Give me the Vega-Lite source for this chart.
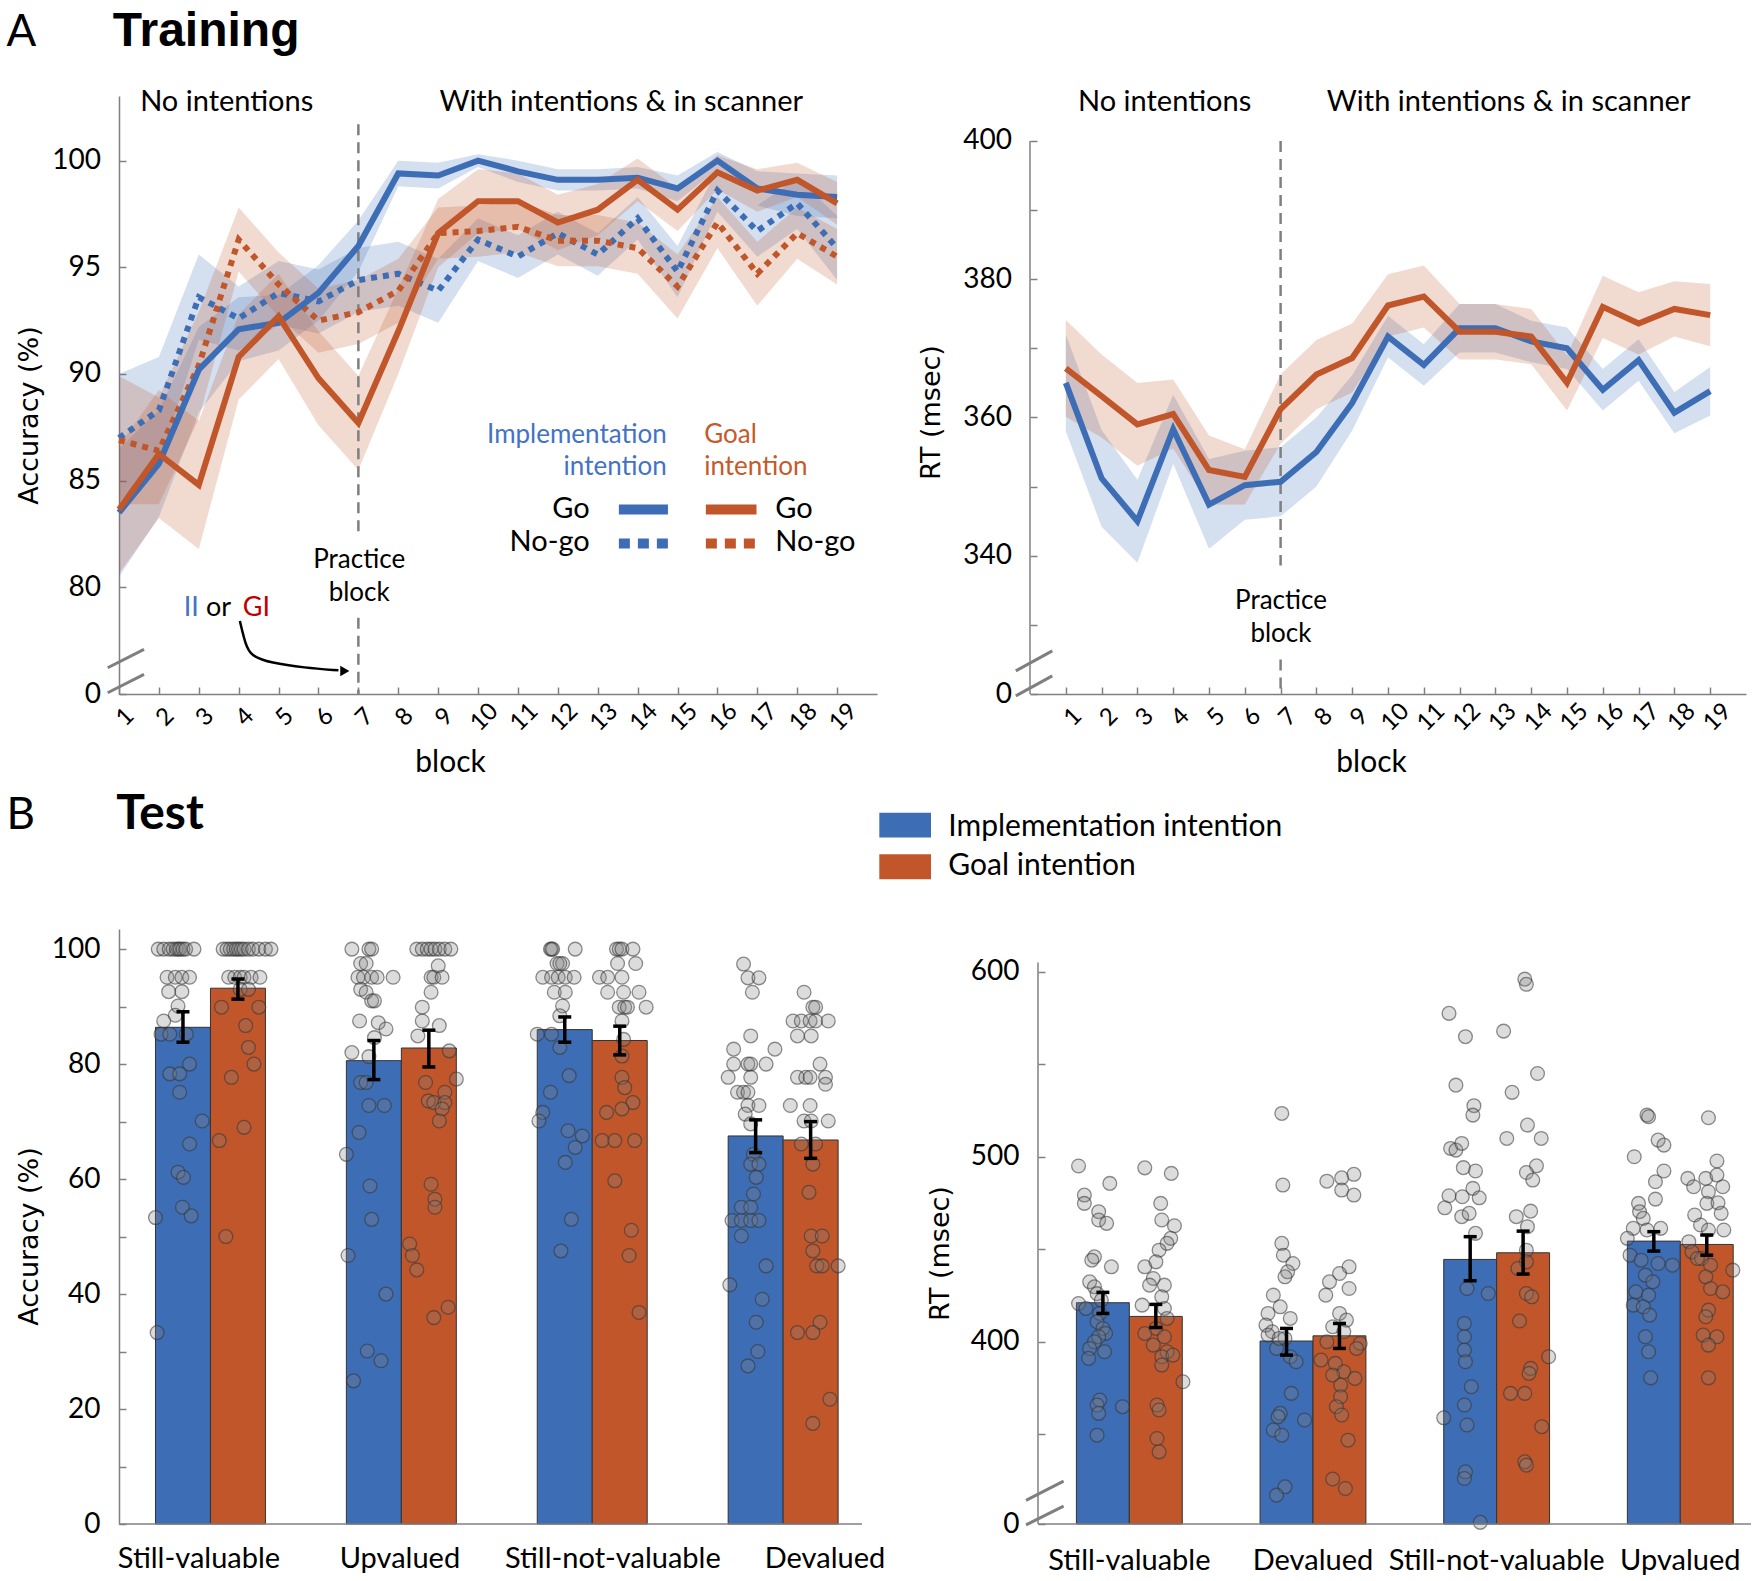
{
"$schema": "https://vega.github.io/schema/vega-lite/v6.json",
"background": "white",
"padding": {"left": 6, "top": 8, "right": 3, "bottom": 5},
"config": {
  "view": {"stroke": null},
  "font": "Lato",
  "axis": {"grid": false, "labelFont": "Lato", "titleFont": "Lato", "labelColor": "black", "titleColor": "black", "domainColor": "#808080", "tickColor": "#808080", "domainWidth": 1.5, "tickWidth": 1.5, "labelFlush": false, "labelOverlap": false, "labelLimit": 0, "titleFontWeight": "normal", "titlePadding": 0},
  "legend": {"disable": true},
  "text": {"font": "Lato"}
},
"datasets": {
  "tlacc": [
    {"block":1,"intention":"II","response":"Go","acc":83.5,"lo":80.5,"hi":86.5},
    {"block":2,"intention":"II","response":"Go","acc":85.8,"lo":83.3,"hi":88.3},
    {"block":3,"intention":"II","response":"Go","acc":90.2,"lo":88.2,"hi":92.2},
    {"block":4,"intention":"II","response":"Go","acc":92.1,"lo":90.6,"hi":93.6},
    {"block":5,"intention":"II","response":"Go","acc":92.4,"lo":91.1,"hi":93.7},
    {"block":6,"intention":"II","response":"Go","acc":93.8,"lo":92.5,"hi":95.1},
    {"block":7,"intention":"II","response":"Go","acc":96.0,"lo":94.8,"hi":97.2},
    {"block":8,"intention":"II","response":"Go","acc":99.4,"lo":98.8,"hi":100.0},
    {"block":9,"intention":"II","response":"Go","acc":99.3,"lo":98.7,"hi":99.9},
    {"block":10,"intention":"II","response":"Go","acc":100.0,"lo":99.7,"hi":100.3},
    {"block":11,"intention":"II","response":"Go","acc":99.5,"lo":99.0,"hi":100.0},
    {"block":12,"intention":"II","response":"Go","acc":99.1,"lo":98.6,"hi":99.6},
    {"block":13,"intention":"II","response":"Go","acc":99.1,"lo":98.6,"hi":99.6},
    {"block":14,"intention":"II","response":"Go","acc":99.2,"lo":98.7,"hi":99.7},
    {"block":15,"intention":"II","response":"Go","acc":98.7,"lo":98.1,"hi":99.3},
    {"block":16,"intention":"II","response":"Go","acc":100.0,"lo":99.6,"hi":100.4},
    {"block":17,"intention":"II","response":"Go","acc":98.7,"lo":97.9,"hi":99.5},
    {"block":18,"intention":"II","response":"Go","acc":98.4,"lo":97.4,"hi":99.4},
    {"block":19,"intention":"II","response":"Go","acc":98.3,"lo":97.3,"hi":99.3},
    {"block":1,"intention":"II","response":"No-go","acc":87.0,"lo":84.0,"hi":90.0},
    {"block":2,"intention":"II","response":"No-go","acc":88.3,"lo":85.8,"hi":90.8},
    {"block":3,"intention":"II","response":"No-go","acc":93.6,"lo":91.6,"hi":95.6},
    {"block":4,"intention":"II","response":"No-go","acc":92.6,"lo":91.1,"hi":94.1},
    {"block":5,"intention":"II","response":"No-go","acc":93.8,"lo":92.3,"hi":95.3},
    {"block":6,"intention":"II","response":"No-go","acc":93.4,"lo":91.9,"hi":94.9},
    {"block":7,"intention":"II","response":"No-go","acc":94.4,"lo":92.9,"hi":95.9},
    {"block":8,"intention":"II","response":"No-go","acc":94.7,"lo":93.2,"hi":96.2},
    {"block":9,"intention":"II","response":"No-go","acc":93.9,"lo":92.4,"hi":95.4},
    {"block":10,"intention":"II","response":"No-go","acc":96.3,"lo":95.3,"hi":97.3},
    {"block":11,"intention":"II","response":"No-go","acc":95.5,"lo":94.5,"hi":96.5},
    {"block":12,"intention":"II","response":"No-go","acc":96.6,"lo":95.6,"hi":97.6},
    {"block":13,"intention":"II","response":"No-go","acc":95.6,"lo":94.6,"hi":96.6},
    {"block":14,"intention":"II","response":"No-go","acc":97.3,"lo":96.3,"hi":98.3},
    {"block":15,"intention":"II","response":"No-go","acc":94.8,"lo":93.6,"hi":96.0},
    {"block":16,"intention":"II","response":"No-go","acc":98.6,"lo":97.6,"hi":99.6},
    {"block":17,"intention":"II","response":"No-go","acc":96.7,"lo":95.5,"hi":97.9},
    {"block":18,"intention":"II","response":"No-go","acc":98.0,"lo":96.8,"hi":99.2},
    {"block":19,"intention":"II","response":"No-go","acc":95.9,"lo":94.4,"hi":97.4},
    {"block":1,"intention":"GI","response":"Go","acc":83.65,"lo":80.65,"hi":86.65},
    {"block":2,"intention":"GI","response":"Go","acc":86.25,"lo":83.25,"hi":89.25},
    {"block":3,"intention":"GI","response":"Go","acc":84.8,"lo":81.8,"hi":87.8},
    {"block":4,"intention":"GI","response":"Go","acc":90.8,"lo":88.8,"hi":92.8},
    {"block":5,"intention":"GI","response":"Go","acc":92.7,"lo":90.7,"hi":94.7},
    {"block":6,"intention":"GI","response":"Go","acc":89.8,"lo":87.6,"hi":92.0},
    {"block":7,"intention":"GI","response":"Go","acc":87.7,"lo":85.5,"hi":89.9},
    {"block":8,"intention":"GI","response":"Go","acc":92.0,"lo":90.0,"hi":94.0},
    {"block":9,"intention":"GI","response":"Go","acc":96.6,"lo":95.0,"hi":98.2},
    {"block":10,"intention":"GI","response":"Go","acc":98.1,"lo":96.6,"hi":99.6},
    {"block":11,"intention":"GI","response":"Go","acc":98.1,"lo":96.8,"hi":99.4},
    {"block":12,"intention":"GI","response":"Go","acc":97.1,"lo":95.8,"hi":98.4},
    {"block":13,"intention":"GI","response":"Go","acc":97.7,"lo":96.5,"hi":98.9},
    {"block":14,"intention":"GI","response":"Go","acc":99.1,"lo":98.1,"hi":100.1},
    {"block":15,"intention":"GI","response":"Go","acc":97.7,"lo":96.7,"hi":98.7},
    {"block":16,"intention":"GI","response":"Go","acc":99.45,"lo":98.65,"hi":100.25},
    {"block":17,"intention":"GI","response":"Go","acc":98.6,"lo":97.6,"hi":99.6},
    {"block":18,"intention":"GI","response":"Go","acc":99.1,"lo":98.3,"hi":99.9},
    {"block":19,"intention":"GI","response":"Go","acc":98.0,"lo":97.0,"hi":99.0},
    {"block":1,"intention":"GI","response":"No-go","acc":86.9,"lo":83.9,"hi":89.9},
    {"block":2,"intention":"GI","response":"No-go","acc":86.4,"lo":83.9,"hi":88.9},
    {"block":3,"intention":"GI","response":"No-go","acc":90.4,"lo":87.9,"hi":92.9},
    {"block":4,"intention":"GI","response":"No-go","acc":96.3,"lo":94.8,"hi":97.8},
    {"block":5,"intention":"GI","response":"No-go","acc":94.2,"lo":92.7,"hi":95.7},
    {"block":6,"intention":"GI","response":"No-go","acc":92.5,"lo":91.0,"hi":94.0},
    {"block":7,"intention":"GI","response":"No-go","acc":92.9,"lo":91.4,"hi":94.4},
    {"block":8,"intention":"GI","response":"No-go","acc":93.9,"lo":92.4,"hi":95.4},
    {"block":9,"intention":"GI","response":"No-go","acc":96.6,"lo":95.4,"hi":97.8},
    {"block":10,"intention":"GI","response":"No-go","acc":96.7,"lo":95.5,"hi":97.9},
    {"block":11,"intention":"GI","response":"No-go","acc":96.9,"lo":95.7,"hi":98.1},
    {"block":12,"intention":"GI","response":"No-go","acc":96.25,"lo":95.05,"hi":97.45},
    {"block":13,"intention":"GI","response":"No-go","acc":96.25,"lo":95.05,"hi":97.45},
    {"block":14,"intention":"GI","response":"No-go","acc":95.9,"lo":94.7,"hi":97.1},
    {"block":15,"intention":"GI","response":"No-go","acc":94.1,"lo":92.6,"hi":95.6},
    {"block":16,"intention":"GI","response":"No-go","acc":97.1,"lo":95.9,"hi":98.3},
    {"block":17,"intention":"GI","response":"No-go","acc":94.7,"lo":93.2,"hi":96.2},
    {"block":18,"intention":"GI","response":"No-go","acc":96.6,"lo":95.4,"hi":97.8},
    {"block":19,"intention":"GI","response":"No-go","acc":95.5,"lo":94.2,"hi":96.8}
  ],
  "trrt": [
    {"block":1,"intention":"II","rt":365.0,"lo":358.0,"hi":372.0},
    {"block":2,"intention":"II","rt":351.2,"lo":344.2,"hi":358.2},
    {"block":3,"intention":"II","rt":345.0,"lo":339.0,"hi":351.0},
    {"block":4,"intention":"II","rt":358.3,"lo":353.3,"hi":363.3},
    {"block":5,"intention":"II","rt":347.4,"lo":341.0,"hi":354.0},
    {"block":6,"intention":"II","rt":350.2,"lo":345.2,"hi":355.2},
    {"block":7,"intention":"II","rt":350.7,"lo":345.7,"hi":355.7},
    {"block":8,"intention":"II","rt":355.0,"lo":350.0,"hi":360.0},
    {"block":9,"intention":"II","rt":362.1,"lo":358.1,"hi":366.1},
    {"block":10,"intention":"II","rt":371.7,"lo":368.7,"hi":374.7},
    {"block":11,"intention":"II","rt":367.6,"lo":364.6,"hi":370.6},
    {"block":12,"intention":"II","rt":372.9,"lo":369.4,"hi":376.4},
    {"block":13,"intention":"II","rt":372.9,"lo":369.4,"hi":376.4},
    {"block":14,"intention":"II","rt":371.0,"lo":368.0,"hi":374.0},
    {"block":15,"intention":"II","rt":370.0,"lo":367.0,"hi":373.0},
    {"block":16,"intention":"II","rt":364.0,"lo":361.0,"hi":367.0},
    {"block":17,"intention":"II","rt":368.3,"lo":365.3,"hi":371.3},
    {"block":18,"intention":"II","rt":360.7,"lo":357.7,"hi":363.7},
    {"block":19,"intention":"II","rt":363.8,"lo":360.3,"hi":367.3},
    {"block":1,"intention":"GI","rt":367.1,"lo":360.1,"hi":374.1},
    {"block":2,"intention":"GI","rt":363.1,"lo":357.1,"hi":369.1},
    {"block":3,"intention":"GI","rt":359.0,"lo":353.0,"hi":365.0},
    {"block":4,"intention":"GI","rt":360.5,"lo":355.5,"hi":365.5},
    {"block":5,"intention":"GI","rt":352.4,"lo":347.4,"hi":357.4},
    {"block":6,"intention":"GI","rt":351.4,"lo":347.4,"hi":355.4},
    {"block":7,"intention":"GI","rt":361.2,"lo":356.2,"hi":366.2},
    {"block":8,"intention":"GI","rt":366.2,"lo":361.2,"hi":371.2},
    {"block":9,"intention":"GI","rt":368.6,"lo":363.6,"hi":373.6},
    {"block":10,"intention":"GI","rt":376.2,"lo":371.7,"hi":380.7},
    {"block":11,"intention":"GI","rt":377.5,"lo":373.0,"hi":382.0},
    {"block":12,"intention":"GI","rt":372.4,"lo":368.4,"hi":376.4},
    {"block":13,"intention":"GI","rt":372.4,"lo":368.4,"hi":376.4},
    {"block":14,"intention":"GI","rt":371.7,"lo":367.7,"hi":375.7},
    {"block":15,"intention":"GI","rt":365.0,"lo":361.0,"hi":369.0},
    {"block":16,"intention":"GI","rt":376.0,"lo":371.5,"hi":380.5},
    {"block":17,"intention":"GI","rt":373.6,"lo":369.1,"hi":378.1},
    {"block":18,"intention":"GI","rt":375.7,"lo":371.7,"hi":379.7},
    {"block":19,"intention":"GI","rt":374.8,"lo":370.3,"hi":379.3}
  ],
  "blbars": [
    {"c":"SV","i":"II","v":86.4,"lo":83.8,"hi":89.1},{"c":"SV","i":"GI","v":93.2,"lo":91.3,"hi":94.8},
    {"c":"UP","i":"II","v":80.6,"lo":77.3,"hi":84.1},{"c":"UP","i":"GI","v":82.8,"lo":79.5,"hi":85.9},
    {"c":"SNV","i":"II","v":86.0,"lo":83.8,"hi":88.2},{"c":"SNV","i":"GI","v":84.1,"lo":81.6,"hi":86.6},
    {"c":"DEV","i":"II","v":67.5,"lo":64.6,"hi":70.3},{"c":"DEV","i":"GI","v":66.8,"lo":63.6,"hi":70.0}
  ],
  "brbars": [
    {"c":"SV","i":"II","v":421.1,"lo":415.3,"hi":426.7},{"c":"SV","i":"GI","v":413.7,"lo":407.7,"hi":420.2},
    {"c":"DEV","i":"II","v":400.4,"lo":392.8,"hi":407.2},{"c":"DEV","i":"GI","v":403.2,"lo":396.4,"hi":409.9},
    {"c":"SNV","i":"II","v":444.5,"lo":433.0,"hi":456.8},{"c":"SNV","i":"GI","v":448.1,"lo":436.6,"hi":459.8},
    {"c":"UP","i":"II","v":454.4,"lo":449.0,"hi":459.5},{"c":"UP","i":"GI","v":452.6,"lo":446.8,"hi":457.7}
  ],
  "blpts": [
    {"c":"SV","i":"II","j":-0.95,"v":100},{"c":"SV","i":"II","j":-0.85,"v":100},{"c":"SV","i":"II","j":-0.75,"v":100},{"c":"SV","i":"II","j":-0.68,"v":100},{"c":"SV","i":"II","j":-0.62,"v":100},{"c":"SV","i":"II","j":-0.58,"v":100},{"c":"SV","i":"II","j":-0.55,"v":100},{"c":"SV","i":"II","j":-0.5,"v":100},{"c":"SV","i":"II","j":-0.45,"v":100},{"c":"SV","i":"II","j":-0.3,"v":100},
    {"c":"SV","i":"II","j":-0.79,"v":95.1},{"c":"SV","i":"II","j":-0.64,"v":95.1},{"c":"SV","i":"II","j":-0.52,"v":95.1},{"c":"SV","i":"II","j":-0.38,"v":95.1},
    {"c":"SV","i":"II","j":-0.76,"v":92.6},{"c":"SV","i":"II","j":-0.52,"v":92.6},{"c":"SV","i":"II","j":-0.59,"v":90.1},{"c":"SV","i":"II","j":-0.85,"v":87.5},{"c":"SV","i":"II","j":-0.64,"v":88.5},
    {"c":"SV","i":"II","j":-0.9,"v":85.2},{"c":"SV","i":"II","j":-0.74,"v":85.2},{"c":"SV","i":"II","j":-0.44,"v":85.2},{"c":"SV","i":"II","j":-0.38,"v":80},{"c":"SV","i":"II","j":-0.74,"v":78.3},{"c":"SV","i":"II","j":-0.56,"v":78.3},{"c":"SV","i":"II","j":-0.56,"v":75.1},{"c":"SV","i":"II","j":-0.15,"v":70.1},{"c":"SV","i":"II","j":-0.38,"v":66.1},{"c":"SV","i":"II","j":-0.59,"v":61.2},{"c":"SV","i":"II","j":-0.49,"v":60.3},{"c":"SV","i":"II","j":-0.51,"v":55.1},{"c":"SV","i":"II","j":-0.35,"v":53.6},{"c":"SV","i":"II","j":-1.0,"v":53.3},{"c":"SV","i":"II","j":-0.97,"v":33.3},
    {"c":"SV","i":"GI","j":0.23,"v":100},{"c":"SV","i":"GI","j":0.3,"v":100},{"c":"SV","i":"GI","j":0.36,"v":100},{"c":"SV","i":"GI","j":0.42,"v":100},{"c":"SV","i":"GI","j":0.47,"v":100},{"c":"SV","i":"GI","j":0.51,"v":100},{"c":"SV","i":"GI","j":0.56,"v":100},{"c":"SV","i":"GI","j":0.61,"v":100},{"c":"SV","i":"GI","j":0.69,"v":100},{"c":"SV","i":"GI","j":0.77,"v":100},{"c":"SV","i":"GI","j":0.88,"v":100},{"c":"SV","i":"GI","j":1.0,"v":100},{"c":"SV","i":"GI","j":1.1,"v":100},
    {"c":"SV","i":"GI","j":0.33,"v":95.1},{"c":"SV","i":"GI","j":0.44,"v":95.1},{"c":"SV","i":"GI","j":0.54,"v":95.1},{"c":"SV","i":"GI","j":0.61,"v":95.1},{"c":"SV","i":"GI","j":0.74,"v":95.1},{"c":"SV","i":"GI","j":0.9,"v":95.1},
    {"c":"SV","i":"GI","j":0.54,"v":93},{"c":"SV","i":"GI","j":0.69,"v":93},{"c":"SV","i":"GI","j":0.2,"v":89.9},{"c":"SV","i":"GI","j":0.88,"v":89.9},{"c":"SV","i":"GI","j":0.64,"v":86.7},{"c":"SV","i":"GI","j":0.69,"v":82.9},{"c":"SV","i":"GI","j":0.79,"v":80},{"c":"SV","i":"GI","j":0.38,"v":77.7},{"c":"SV","i":"GI","j":0.61,"v":69},{"c":"SV","i":"GI","j":0.16,"v":66.7},{"c":"SV","i":"GI","j":0.28,"v":50},
    {"c":"UP","i":"II","j":-0.9,"v":100},{"c":"UP","i":"II","j":-0.59,"v":100},{"c":"UP","i":"II","j":-0.54,"v":100},{"c":"UP","i":"II","j":-0.74,"v":97.5},{"c":"UP","i":"II","j":-0.64,"v":97.5},
    {"c":"UP","i":"II","j":-0.79,"v":95.1},{"c":"UP","i":"II","j":-0.69,"v":95.1},{"c":"UP","i":"II","j":-0.54,"v":95.1},{"c":"UP","i":"II","j":-0.44,"v":95.1},{"c":"UP","i":"II","j":-0.15,"v":95.1},
    {"c":"UP","i":"II","j":-0.74,"v":93},{"c":"UP","i":"II","j":-0.64,"v":92.5},{"c":"UP","i":"II","j":-0.54,"v":91},{"c":"UP","i":"II","j":-0.49,"v":91},{"c":"UP","i":"II","j":-0.76,"v":87.5},{"c":"UP","i":"II","j":-0.42,"v":87.2},{"c":"UP","i":"II","j":-0.28,"v":86.1},{"c":"UP","i":"II","j":-0.49,"v":84.6},{"c":"UP","i":"II","j":-0.9,"v":82},{"c":"UP","i":"II","j":-0.59,"v":81.3},
    {"c":"UP","i":"II","j":-0.74,"v":76.8},{"c":"UP","i":"II","j":-0.64,"v":76.8},{"c":"UP","i":"II","j":-0.59,"v":72.8},{"c":"UP","i":"II","j":-0.31,"v":72.8},{"c":"UP","i":"II","j":-0.77,"v":68.1},{"c":"UP","i":"II","j":-1.0,"v":64.3},{"c":"UP","i":"II","j":-0.57,"v":58.8},{"c":"UP","i":"II","j":-0.54,"v":53},{"c":"UP","i":"II","j":-0.97,"v":46.7},{"c":"UP","i":"II","j":-0.28,"v":40},{"c":"UP","i":"II","j":-0.62,"v":30.1},{"c":"UP","i":"II","j":-0.37,"v":28.4},{"c":"UP","i":"II","j":-0.87,"v":24.9},
    {"c":"UP","i":"GI","j":0.28,"v":100},{"c":"UP","i":"GI","j":0.38,"v":100},{"c":"UP","i":"GI","j":0.47,"v":100},{"c":"UP","i":"GI","j":0.54,"v":100},{"c":"UP","i":"GI","j":0.61,"v":100},{"c":"UP","i":"GI","j":0.69,"v":100},{"c":"UP","i":"GI","j":0.79,"v":100},{"c":"UP","i":"GI","j":0.9,"v":100},
    {"c":"UP","i":"GI","j":0.67,"v":97.1},{"c":"UP","i":"GI","j":0.54,"v":95.1},{"c":"UP","i":"GI","j":0.59,"v":95.1},{"c":"UP","i":"GI","j":0.74,"v":95.1},{"c":"UP","i":"GI","j":0.54,"v":92.5},{"c":"UP","i":"GI","j":0.38,"v":89.9},{"c":"UP","i":"GI","j":0.69,"v":86.7},{"c":"UP","i":"GI","j":0.38,"v":87.5},{"c":"UP","i":"GI","j":0.3,"v":84.9},{"c":"UP","i":"GI","j":0.87,"v":82.3},{"c":"UP","i":"GI","j":1.0,"v":77.4},{"c":"UP","i":"GI","j":0.44,"v":76.8},
    {"c":"UP","i":"GI","j":0.79,"v":75.1},{"c":"UP","i":"GI","j":0.49,"v":73.6},{"c":"UP","i":"GI","j":0.59,"v":73.3},{"c":"UP","i":"GI","j":0.79,"v":73.3},{"c":"UP","i":"GI","j":0.74,"v":72.2},{"c":"UP","i":"GI","j":0.69,"v":70.1},
    {"c":"UP","i":"GI","j":0.54,"v":59.1},{"c":"UP","i":"GI","j":0.61,"v":56.5},{"c":"UP","i":"GI","j":0.61,"v":55.1},{"c":"UP","i":"GI","j":0.15,"v":48.7},{"c":"UP","i":"GI","j":0.2,"v":46.7},{"c":"UP","i":"GI","j":0.28,"v":44.2},{"c":"UP","i":"GI","j":0.85,"v":37.7},{"c":"UP","i":"GI","j":0.59,"v":35.9},
    {"c":"SNV","i":"II","j":-0.74,"v":100},{"c":"SNV","i":"II","j":-0.76,"v":100},{"c":"SNV","i":"II","j":-0.72,"v":100},{"c":"SNV","i":"II","j":-0.31,"v":100},
    {"c":"SNV","i":"II","j":-0.64,"v":97.5},{"c":"SNV","i":"II","j":-0.54,"v":97.5},{"c":"SNV","i":"II","j":-0.59,"v":97.5},
    {"c":"SNV","i":"II","j":-0.9,"v":95.1},{"c":"SNV","i":"II","j":-0.74,"v":95.1},{"c":"SNV","i":"II","j":-0.62,"v":95.1},{"c":"SNV","i":"II","j":-0.49,"v":95.1},{"c":"SNV","i":"II","j":-0.33,"v":95.1},
    {"c":"SNV","i":"II","j":-0.69,"v":92.5},{"c":"SNV","i":"II","j":-0.49,"v":92.5},{"c":"SNV","i":"II","j":-0.54,"v":90.1},{"c":"SNV","i":"II","j":-0.59,"v":88.4},{"c":"SNV","i":"II","j":-1.0,"v":85.2},{"c":"SNV","i":"II","j":-0.74,"v":85.2},
    {"c":"SNV","i":"II","j":-0.59,"v":82.9},{"c":"SNV","i":"II","j":-0.42,"v":78},{"c":"SNV","i":"II","j":-0.76,"v":75.1},{"c":"SNV","i":"II","j":-0.9,"v":71.6},{"c":"SNV","i":"II","j":-0.97,"v":70.1},{"c":"SNV","i":"II","j":-0.44,"v":68.4},{"c":"SNV","i":"II","j":-0.18,"v":67.5},{"c":"SNV","i":"II","j":-0.31,"v":65.5},{"c":"SNV","i":"II","j":-0.49,"v":62.9},{"c":"SNV","i":"II","j":-0.38,"v":53},{"c":"SNV","i":"II","j":-0.57,"v":47.5},
    {"c":"SNV","i":"GI","j":0.44,"v":100},{"c":"SNV","i":"GI","j":0.49,"v":100},{"c":"SNV","i":"GI","j":0.54,"v":100},{"c":"SNV","i":"GI","j":0.74,"v":100},{"c":"SNV","i":"GI","j":0.46,"v":97.5},{"c":"SNV","i":"GI","j":0.79,"v":97.5},
    {"c":"SNV","i":"GI","j":0.13,"v":95.1},{"c":"SNV","i":"GI","j":0.28,"v":95.1},{"c":"SNV","i":"GI","j":0.54,"v":95.1},{"c":"SNV","i":"GI","j":0.28,"v":92.5},{"c":"SNV","i":"GI","j":0.57,"v":92.5},{"c":"SNV","i":"GI","j":0.85,"v":92.5},
    {"c":"SNV","i":"GI","j":0.49,"v":89.9},{"c":"SNV","i":"GI","j":0.59,"v":89.9},{"c":"SNV","i":"GI","j":0.64,"v":89.9},{"c":"SNV","i":"GI","j":0.98,"v":89.9},
    {"c":"SNV","i":"GI","j":0.54,"v":87.5},{"c":"SNV","i":"GI","j":0.57,"v":84.3},{"c":"SNV","i":"GI","j":0.54,"v":81.4},{"c":"SNV","i":"GI","j":0.54,"v":77.7},{"c":"SNV","i":"GI","j":0.59,"v":75.9},{"c":"SNV","i":"GI","j":0.74,"v":73.3},{"c":"SNV","i":"GI","j":0.26,"v":71.6},{"c":"SNV","i":"GI","j":0.54,"v":72.2},
    {"c":"SNV","i":"GI","j":0.18,"v":66.7},{"c":"SNV","i":"GI","j":0.41,"v":66.7},{"c":"SNV","i":"GI","j":0.77,"v":66.7},{"c":"SNV","i":"GI","j":0.41,"v":59.7},{"c":"SNV","i":"GI","j":0.71,"v":51.1},{"c":"SNV","i":"GI","j":0.67,"v":46.7},{"c":"SNV","i":"GI","j":0.85,"v":36.8},
    {"c":"DEV","i":"II","j":-0.72,"v":97.4},{"c":"DEV","i":"II","j":-0.64,"v":95},{"c":"DEV","i":"II","j":-0.44,"v":95},{"c":"DEV","i":"II","j":-0.56,"v":92.5},{"c":"DEV","i":"II","j":-0.59,"v":84.9},{"c":"DEV","i":"II","j":-0.9,"v":82.6},{"c":"DEV","i":"II","j":-0.15,"v":82.6},
    {"c":"DEV","i":"II","j":-0.9,"v":80},{"c":"DEV","i":"II","j":-0.64,"v":80},{"c":"DEV","i":"II","j":-0.59,"v":80},{"c":"DEV","i":"II","j":-0.31,"v":80},{"c":"DEV","i":"II","j":-1.0,"v":77.7},{"c":"DEV","i":"II","j":-0.59,"v":77.7},
    {"c":"DEV","i":"II","j":-0.83,"v":75.1},{"c":"DEV","i":"II","j":-0.72,"v":75.1},{"c":"DEV","i":"II","j":-0.64,"v":75.1},{"c":"DEV","i":"II","j":-0.64,"v":72.8},{"c":"DEV","i":"II","j":-0.44,"v":72.8},{"c":"DEV","i":"II","j":-0.69,"v":71.3},{"c":"DEV","i":"II","j":-0.59,"v":69.6},
    {"c":"DEV","i":"II","j":-0.54,"v":64.3},{"c":"DEV","i":"II","j":-0.59,"v":62.6},{"c":"DEV","i":"II","j":-0.44,"v":62.6},{"c":"DEV","i":"II","j":-0.49,"v":60.3},{"c":"DEV","i":"II","j":-0.54,"v":57.4},
    {"c":"DEV","i":"II","j":-0.76,"v":55.1},{"c":"DEV","i":"II","j":-0.59,"v":55.1},{"c":"DEV","i":"II","j":-0.93,"v":52.8},{"c":"DEV","i":"II","j":-0.76,"v":52.8},{"c":"DEV","i":"II","j":-0.59,"v":52.8},{"c":"DEV","i":"II","j":-0.44,"v":52.8},{"c":"DEV","i":"II","j":-0.76,"v":50.1},
    {"c":"DEV","i":"II","j":-0.31,"v":44.9},{"c":"DEV","i":"II","j":-0.97,"v":41.6},{"c":"DEV","i":"II","j":-0.38,"v":39.1},{"c":"DEV","i":"II","j":-0.49,"v":35.1},{"c":"DEV","i":"II","j":-0.46,"v":30},{"c":"DEV","i":"II","j":-0.64,"v":27.5},
    {"c":"DEV","i":"GI","j":0.38,"v":92.5},{"c":"DEV","i":"GI","j":0.54,"v":89.9},{"c":"DEV","i":"GI","j":0.59,"v":89.9},
    {"c":"DEV","i":"GI","j":0.18,"v":87.5},{"c":"DEV","i":"GI","j":0.33,"v":87.5},{"c":"DEV","i":"GI","j":0.49,"v":87.5},{"c":"DEV","i":"GI","j":0.59,"v":87.5},{"c":"DEV","i":"GI","j":0.82,"v":87.5},
    {"c":"DEV","i":"GI","j":0.26,"v":84.9},{"c":"DEV","i":"GI","j":0.51,"v":84.9},{"c":"DEV","i":"GI","j":0.67,"v":80},
    {"c":"DEV","i":"GI","j":0.26,"v":77.7},{"c":"DEV","i":"GI","j":0.41,"v":77.7},{"c":"DEV","i":"GI","j":0.49,"v":77.7},{"c":"DEV","i":"GI","j":0.77,"v":77.7},{"c":"DEV","i":"GI","j":0.77,"v":76.5},
    {"c":"DEV","i":"GI","j":0.13,"v":72.8},{"c":"DEV","i":"GI","j":0.49,"v":72.8},{"c":"DEV","i":"GI","j":0.38,"v":70.1},{"c":"DEV","i":"GI","j":0.51,"v":70.1},{"c":"DEV","i":"GI","j":0.82,"v":70.1},
    {"c":"DEV","i":"GI","j":0.33,"v":66.1},{"c":"DEV","i":"GI","j":0.59,"v":66.1},{"c":"DEV","i":"GI","j":0.54,"v":62.6},{"c":"DEV","i":"GI","j":0.47,"v":57.7},{"c":"DEV","i":"GI","j":0.51,"v":50.1},{"c":"DEV","i":"GI","j":0.71,"v":50.1},{"c":"DEV","i":"GI","j":0.54,"v":47.5},
    {"c":"DEV","i":"GI","j":0.61,"v":44.9},{"c":"DEV","i":"GI","j":0.71,"v":44.9},{"c":"DEV","i":"GI","j":1.0,"v":44.9},{"c":"DEV","i":"GI","j":0.67,"v":35.1},{"c":"DEV","i":"GI","j":0.26,"v":33.3},{"c":"DEV","i":"GI","j":0.54,"v":33.3},{"c":"DEV","i":"GI","j":0.85,"v":21.7},{"c":"DEV","i":"GI","j":0.54,"v":17.5}
  ],
  "brpts": [
    {"c":"SV","i":"II","j":-0.96,"v":495},{"c":"SV","i":"II","j":-0.85,"v":479.3},{"c":"SV","i":"II","j":-0.85,"v":474.8},{"c":"SV","i":"II","j":-0.58,"v":470.3},{"c":"SV","i":"II","j":-0.58,"v":465.8},{"c":"SV","i":"II","j":-0.43,"v":464},{"c":"SV","i":"II","j":-0.37,"v":485.6},
    {"c":"SV","i":"II","j":-0.66,"v":445.9},{"c":"SV","i":"II","j":-0.71,"v":444.1},{"c":"SV","i":"II","j":-0.34,"v":440.5},{"c":"SV","i":"II","j":-0.75,"v":432.4},{"c":"SV","i":"II","j":-0.66,"v":429.7},{"c":"SV","i":"II","j":-0.61,"v":426},{"c":"SV","i":"II","j":-0.53,"v":422.5},{"c":"SV","i":"II","j":-0.96,"v":420.7},{"c":"SV","i":"II","j":-0.82,"v":418},{"c":"SV","i":"II","j":-0.56,"v":415.3},
    {"c":"SV","i":"II","j":-0.61,"v":410.8},{"c":"SV","i":"II","j":-0.5,"v":407.2},{"c":"SV","i":"II","j":-0.45,"v":404.5},{"c":"SV","i":"II","j":-0.58,"v":402.7},{"c":"SV","i":"II","j":-0.66,"v":400},{"c":"SV","i":"II","j":-0.75,"v":396.4},{"c":"SV","i":"II","j":-0.47,"v":394.6},{"c":"SV","i":"II","j":-0.77,"v":391},
    {"c":"SV","i":"II","j":-0.56,"v":368.5},{"c":"SV","i":"II","j":-0.61,"v":365.8},{"c":"SV","i":"II","j":-0.13,"v":364.9},{"c":"SV","i":"II","j":-0.58,"v":361.3},{"c":"SV","i":"II","j":-0.61,"v":349.5},
    {"c":"SV","i":"GI","j":0.29,"v":494},{"c":"SV","i":"GI","j":0.79,"v":491},{"c":"SV","i":"GI","j":0.59,"v":474.8},{"c":"SV","i":"GI","j":0.61,"v":465.8},{"c":"SV","i":"GI","j":0.85,"v":462.7},{"c":"SV","i":"GI","j":0.78,"v":455.9},
    {"c":"SV","i":"GI","j":0.71,"v":453.2},{"c":"SV","i":"GI","j":0.56,"v":449.5},{"c":"SV","i":"GI","j":0.29,"v":440.5},{"c":"SV","i":"GI","j":0.5,"v":443.2},{"c":"SV","i":"GI","j":0.45,"v":434.2},{"c":"SV","i":"GI","j":0.38,"v":430.6},{"c":"SV","i":"GI","j":0.66,"v":430.6},{"c":"SV","i":"GI","j":0.24,"v":419.8},{"c":"SV","i":"GI","j":0.61,"v":424.3},{"c":"SV","i":"GI","j":0.66,"v":418},
    {"c":"SV","i":"GI","j":0.71,"v":412.6},{"c":"SV","i":"GI","j":0.5,"v":407.2},{"c":"SV","i":"GI","j":0.66,"v":402.7},{"c":"SV","i":"GI","j":0.45,"v":398.2},{"c":"SV","i":"GI","j":0.71,"v":394.6},{"c":"SV","i":"GI","j":0.61,"v":391.9},{"c":"SV","i":"GI","j":0.82,"v":392.8},{"c":"SV","i":"GI","j":0.61,"v":387.4},{"c":"SV","i":"GI","j":1.01,"v":378.4},
    {"c":"SV","i":"GI","j":0.52,"v":365.8},{"c":"SV","i":"GI","j":0.56,"v":363.1},{"c":"SV","i":"GI","j":0.52,"v":347.7},{"c":"SV","i":"GI","j":0.56,"v":340.5},{"c":"SV","i":"GI","j":0.29,"v":404.5},
    {"c":"DEV","i":"II","j":-0.59,"v":523.4},{"c":"DEV","i":"II","j":-0.57,"v":484.7},{"c":"DEV","i":"II","j":-0.59,"v":453.2},{"c":"DEV","i":"II","j":-0.56,"v":446.8},{"c":"DEV","i":"II","j":-0.38,"v":442.3},{"c":"DEV","i":"II","j":-0.48,"v":437.8},{"c":"DEV","i":"II","j":-0.53,"v":435.1},{"c":"DEV","i":"II","j":-0.75,"v":425.2},{"c":"DEV","i":"II","j":-0.62,"v":418.9},
    {"c":"DEV","i":"II","j":-0.85,"v":415.3},{"c":"DEV","i":"II","j":-0.43,"v":412.6},{"c":"DEV","i":"II","j":-0.89,"v":409},{"c":"DEV","i":"II","j":-0.77,"v":405.4},{"c":"DEV","i":"II","j":-0.53,"v":401.8},{"c":"DEV","i":"II","j":-0.69,"v":396.4},{"c":"DEV","i":"II","j":-0.43,"v":391.9},{"c":"DEV","i":"II","j":-0.32,"v":389.2},
    {"c":"DEV","i":"II","j":-0.41,"v":372.1},{"c":"DEV","i":"II","j":-0.62,"v":361.3},{"c":"DEV","i":"II","j":-0.66,"v":359.5},{"c":"DEV","i":"II","j":-0.16,"v":357.7},{"c":"DEV","i":"II","j":-0.75,"v":352.3},{"c":"DEV","i":"II","j":-0.59,"v":349.5},{"c":"DEV","i":"II","j":-0.53,"v":321.6},{"c":"DEV","i":"II","j":-0.69,"v":317.1},{"c":"DEV","i":"II","j":-0.85,"v":403.6},{"c":"DEV","i":"II","j":-0.64,"v":401.8},
    {"c":"DEV","i":"GI","j":0.26,"v":486.8},{"c":"DEV","i":"GI","j":0.54,"v":488.6},{"c":"DEV","i":"GI","j":0.77,"v":490.5},{"c":"DEV","i":"GI","j":0.54,"v":482},{"c":"DEV","i":"GI","j":0.77,"v":479.3},
    {"c":"DEV","i":"GI","j":0.68,"v":440.5},{"c":"DEV","i":"GI","j":0.5,"v":436.9},{"c":"DEV","i":"GI","j":0.31,"v":432.4},{"c":"DEV","i":"GI","j":0.24,"v":425.2},{"c":"DEV","i":"GI","j":0.68,"v":428.8},{"c":"DEV","i":"GI","j":0.5,"v":415.3},{"c":"DEV","i":"GI","j":0.63,"v":411.7},{"c":"DEV","i":"GI","j":0.37,"v":408.1},{"c":"DEV","i":"GI","j":0.58,"v":405.4},
    {"c":"DEV","i":"GI","j":0.89,"v":399.1},{"c":"DEV","i":"GI","j":0.82,"v":396.4},{"c":"DEV","i":"GI","j":0.15,"v":390.1},{"c":"DEV","i":"GI","j":0.42,"v":388.3},{"c":"DEV","i":"GI","j":0.58,"v":383.8},{"c":"DEV","i":"GI","j":0.37,"v":382},{"c":"DEV","i":"GI","j":0.79,"v":380.2},{"c":"DEV","i":"GI","j":0.52,"v":376.6},
    {"c":"DEV","i":"GI","j":0.52,"v":370.3},{"c":"DEV","i":"GI","j":0.44,"v":364.9},{"c":"DEV","i":"GI","j":0.54,"v":360.4},{"c":"DEV","i":"GI","j":0.66,"v":346.8},{"c":"DEV","i":"GI","j":0.37,"v":325.8},{"c":"DEV","i":"GI","j":0.61,"v":320.7},{"c":"DEV","i":"GI","j":0.26,"v":400},
    {"c":"SNV","i":"II","j":-0.9,"v":577.5},{"c":"SNV","i":"II","j":-0.59,"v":564.9},{"c":"SNV","i":"II","j":-0.77,"v":538.7},{"c":"SNV","i":"II","j":-0.43,"v":527.6},{"c":"SNV","i":"II","j":-0.45,"v":522.5},{"c":"SNV","i":"II","j":-0.87,"v":504.5},{"c":"SNV","i":"II","j":-0.77,"v":503.6},{"c":"SNV","i":"II","j":-0.66,"v":507.2},{"c":"SNV","i":"II","j":-0.63,"v":494.1},
    {"c":"SNV","i":"II","j":-0.4,"v":492.3},{"c":"SNV","i":"II","j":-0.9,"v":478.9},{"c":"SNV","i":"II","j":-0.65,"v":478.4},{"c":"SNV","i":"II","j":-0.45,"v":482.9},{"c":"SNV","i":"II","j":-0.33,"v":477.8},{"c":"SNV","i":"II","j":-0.98,"v":472.4},{"c":"SNV","i":"II","j":-0.66,"v":467.6},{"c":"SNV","i":"II","j":-0.52,"v":469.4},{"c":"SNV","i":"II","j":-0.4,"v":458.6},
    {"c":"SNV","i":"II","j":-0.56,"v":428.8},{"c":"SNV","i":"II","j":-0.16,"v":426.1},{"c":"SNV","i":"II","j":-0.61,"v":409.9},{"c":"SNV","i":"II","j":-0.61,"v":402.7},{"c":"SNV","i":"II","j":-0.61,"v":395.5},{"c":"SNV","i":"II","j":-0.59,"v":389.2},{"c":"SNV","i":"II","j":-0.48,"v":375.7},{"c":"SNV","i":"II","j":-0.61,"v":365.8},
    {"c":"SNV","i":"II","j":-0.56,"v":355},{"c":"SNV","i":"II","j":-1.0,"v":358.9},{"c":"SNV","i":"II","j":-0.59,"v":329.7},{"c":"SNV","i":"II","j":-0.61,"v":326.1},{"c":"SNV","i":"II","j":-0.31,"v":302.4},
    {"c":"SNV","i":"GI","j":0.53,"v":596},{"c":"SNV","i":"GI","j":0.56,"v":593.2},{"c":"SNV","i":"GI","j":0.13,"v":567.9},{"c":"SNV","i":"GI","j":0.77,"v":545},{"c":"SNV","i":"GI","j":0.29,"v":534.8},{"c":"SNV","i":"GI","j":0.58,"v":517.1},{"c":"SNV","i":"GI","j":0.19,"v":509.9},{"c":"SNV","i":"GI","j":0.84,"v":509.9},
    {"c":"SNV","i":"GI","j":0.75,"v":495.1},{"c":"SNV","i":"GI","j":0.56,"v":491.5},{"c":"SNV","i":"GI","j":0.68,"v":487.4},{"c":"SNV","i":"GI","j":0.37,"v":467.6},{"c":"SNV","i":"GI","j":0.64,"v":470.6},{"c":"SNV","i":"GI","j":0.58,"v":462.2},
    {"c":"SNV","i":"GI","j":0.56,"v":449.5},{"c":"SNV","i":"GI","j":0.56,"v":443.2},{"c":"SNV","i":"GI","j":0.4,"v":439.6},{"c":"SNV","i":"GI","j":0.56,"v":426.1},{"c":"SNV","i":"GI","j":0.66,"v":424.3},{"c":"SNV","i":"GI","j":0.43,"v":411.2},{"c":"SNV","i":"GI","j":0.98,"v":391.9},
    {"c":"SNV","i":"GI","j":0.64,"v":385.6},{"c":"SNV","i":"GI","j":0.61,"v":382.9},{"c":"SNV","i":"GI","j":0.26,"v":372.1},{"c":"SNV","i":"GI","j":0.53,"v":372.1},{"c":"SNV","i":"GI","j":0.85,"v":354.1},{"c":"SNV","i":"GI","j":0.53,"v":335.1},{"c":"SNV","i":"GI","j":0.56,"v":333.3},
    {"c":"UP","i":"II","j":-0.63,"v":522.5},{"c":"UP","i":"II","j":-0.6,"v":521.6},{"c":"UP","i":"II","j":-0.42,"v":509},{"c":"UP","i":"II","j":-0.31,"v":506.3},{"c":"UP","i":"II","j":-0.87,"v":500},{"c":"UP","i":"II","j":-0.31,"v":492.3},{"c":"UP","i":"II","j":-0.47,"v":486.5},{"c":"UP","i":"II","j":-0.79,"v":474.8},
    {"c":"UP","i":"II","j":-0.47,"v":477.1},{"c":"UP","i":"II","j":-0.77,"v":470.3},{"c":"UP","i":"II","j":-0.7,"v":466.7},{"c":"UP","i":"II","j":-0.89,"v":461.3},{"c":"UP","i":"II","j":-0.63,"v":460.4},{"c":"UP","i":"II","j":-0.37,"v":461.3},{"c":"UP","i":"II","j":-1.0,"v":455.9},
    {"c":"UP","i":"II","j":-0.95,"v":446.8},{"c":"UP","i":"II","j":-0.74,"v":444.1},{"c":"UP","i":"II","j":-0.42,"v":442.3},{"c":"UP","i":"II","j":-0.15,"v":441.4},{"c":"UP","i":"II","j":-0.66,"v":436},{"c":"UP","i":"II","j":-0.52,"v":432.4},{"c":"UP","i":"II","j":-0.84,"v":427},{"c":"UP","i":"II","j":-0.6,"v":425.2},
    {"c":"UP","i":"II","j":-0.89,"v":419.8},{"c":"UP","i":"II","j":-0.7,"v":418.9},{"c":"UP","i":"II","j":-0.58,"v":414.4},{"c":"UP","i":"II","j":-0.66,"v":402.7},{"c":"UP","i":"II","j":-0.6,"v":394.6},{"c":"UP","i":"II","j":-0.56,"v":380.5},
    {"c":"UP","i":"GI","j":0.53,"v":521.1},{"c":"UP","i":"GI","j":0.69,"v":497.7},{"c":"UP","i":"GI","j":0.14,"v":488.3},{"c":"UP","i":"GI","j":0.48,"v":488.3},{"c":"UP","i":"GI","j":0.69,"v":490.1},{"c":"UP","i":"GI","j":0.25,"v":483.8},{"c":"UP","i":"GI","j":0.53,"v":481.1},{"c":"UP","i":"GI","j":0.8,"v":483.8},
    {"c":"UP","i":"GI","j":0.5,"v":474.8},{"c":"UP","i":"GI","j":0.71,"v":475.1},{"c":"UP","i":"GI","j":0.27,"v":468.5},{"c":"UP","i":"GI","j":0.38,"v":463.1},{"c":"UP","i":"GI","j":0.77,"v":469.4},{"c":"UP","i":"GI","j":0.53,"v":460.4},{"c":"UP","i":"GI","j":0.82,"v":460.4},{"c":"UP","i":"GI","j":0.16,"v":454.1},
    {"c":"UP","i":"GI","j":0.22,"v":448.6},{"c":"UP","i":"GI","j":0.4,"v":445},{"c":"UP","i":"GI","j":0.57,"v":441.4},{"c":"UP","i":"GI","j":0.99,"v":438.7},{"c":"UP","i":"GI","j":0.48,"v":435.1},{"c":"UP","i":"GI","j":0.57,"v":428.8},{"c":"UP","i":"GI","j":0.8,"v":427},{"c":"UP","i":"GI","j":0.53,"v":417.1},
    {"c":"UP","i":"GI","j":0.48,"v":413.5},{"c":"UP","i":"GI","j":0.43,"v":403.6},{"c":"UP","i":"GI","j":0.69,"v":402.7},{"c":"UP","i":"GI","j":0.53,"v":398.2},{"c":"UP","i":"GI","j":0.53,"v":380.5},{"c":"UP","i":"GI","j":0.32,"v":445}
  ]
},
"columns": 2,
"bounds": "flush",
"spacing": {"row": 235, "column": 153},
"resolve": {"scale": {"color": "shared", "xOffset": "independent"}},
"concat": [
  {
    "width": 758, "height": 598,
    "encoding": {
      "x": {"field": "block", "type": "quantitative", "scale": {"domain": [1, 20], "nice": false, "zero": false},
            "axis": {"values": [1,2,3,4,5,6,7,8,9,10,11,12,13,14,15,16,17,18,19], "labelAngle": -45, "labelAlign": "center", "labelBaseline": "middle", "labelFontSize": 24, "labelPadding": 30, "labelOffset": 6, "tickSize": -7, "title": "block", "titleFontSize": 30, "titleX": 331, "titleY": 77, "titleBaseline": "alphabetic", "titleAlign": "center"}},
      "y": {"field": "acc", "type": "quantitative", "scale": {"domain": [75, 103.03], "nice": false, "zero": false},
            "axis": {"values": [75, 80, 85, 90, 95, 100], "labelExpr": "datum.value == 75 ? '0' : datum.label", "labelFontSize": 28, "labelPadding": 25.5, "tickSize": -7, "title": "Accuracy (%)", "titleFont": "DejaVu Sans", "titleFontSize": 27, "titleX": -90, "titleY": 319, "titleAngle": -90, "titleAlign": "center", "titleBaseline": "middle"}}
    },
    "layer": [
      {"data": {"name": "tlacc"}, "mark": {"type": "area", "opacity": 0.22},
       "encoding": {"y": {"field": "lo", "type": "quantitative"}, "y2": {"field": "hi"},
                    "color": {"field": "intention", "type": "nominal", "scale": {"domain": ["II", "GI"], "range": ["#3D6DB4", "#C0562A"]}, "legend": null},
                    "detail": {"field": "response", "type": "nominal"}}},
      {"data": {"values": [{"block": 7, "acc": 101.7, "acc2": 82.56}, {"block": 7, "acc": 78.57, "acc2": 75}]},
       "mark": {"type": "rule", "color": "#7f7f7f", "strokeWidth": 2.5, "strokeDash": [11, 7]},
       "encoding": {"y2": {"field": "acc2"}}},
      {"data": {"name": "tlacc"}, "transform": [{"filter": "datum.response == 'No-go'"}],
       "mark": {"type": "line", "strokeWidth": 6, "strokeDash": [6, 6]},
       "encoding": {"color": {"field": "intention", "type": "nominal", "legend": null}}},
      {"data": {"name": "tlacc"}, "transform": [{"filter": "datum.response == 'Go'"}],
       "mark": {"type": "line", "strokeWidth": 6},
       "encoding": {"color": {"field": "intention", "type": "nominal", "legend": null}}},
      {"data": {"values": [{"label": "No intentions", "block": 3.7, "acc": 102.33}, {"label": "With intentions & in scanner", "block": 13.59, "acc": 102.33}]},
       "mark": {"type": "text", "fontSize": 29, "align": "center", "baseline": "alphabetic", "color": "black"},
       "encoding": {"text": {"field": "label"}}},
      {"data": {"values": [{"label": "Practice", "block": 7.02, "acc": 80.92}, {"label": "block", "block": 7.02, "acc": 79.35}]},
       "mark": {"type": "text", "fontSize": 26, "align": "center", "baseline": "alphabetic", "color": "black"},
       "encoding": {"text": {"field": "label"}}},
      {"data": {"values": [{"label": "II", "block": 2.62, "acc": 78.65}]},
       "mark": {"type": "text", "fontSize": 27, "align": "left", "baseline": "alphabetic", "color": "#4472C4"},
       "encoding": {"text": {"field": "label"}}},
      {"data": {"values": [{"label": "or", "block": 3.18, "acc": 78.65}]},
       "mark": {"type": "text", "fontSize": 27, "align": "left", "baseline": "alphabetic", "color": "black"},
       "encoding": {"text": {"field": "label"}}},
      {"data": {"values": [{"label": "GI", "block": 4.1, "acc": 78.65}]},
       "mark": {"type": "text", "fontSize": 27, "align": "left", "baseline": "alphabetic", "color": "#C00000"},
       "encoding": {"text": {"field": "label"}}},
      {"data": {"values": [{"o": 1, "block": 4.03, "acc": 78.42}, {"o": 2, "block": 4.17, "acc": 77.32}, {"o": 3, "block": 4.31, "acc": 76.78}, {"o": 4, "block": 4.8, "acc": 76.46}, {"o": 5, "block": 5.65, "acc": 76.23}, {"o": 6, "block": 6.5, "acc": 76.11}]},
       "mark": {"type": "line", "color": "black", "strokeWidth": 2.5, "interpolate": "basis"},
       "encoding": {"order": {"field": "o", "type": "quantitative"}}},
      {"data": {"values": [{"block": 6.66, "acc": 76.08}]},
       "mark": {"type": "point", "shape": "triangle-right", "filled": true, "color": "black", "size": 110, "opacity": 1},
       "encoding": {}},
      {"data": {"values": [{"label": "Implementation", "block": 14.73, "acc": 86.75}, {"label": "intention", "block": 14.73, "acc": 85.27}]},
       "mark": {"type": "text", "fontSize": 26, "align": "right", "baseline": "alphabetic", "color": "#4472C4"},
       "encoding": {"text": {"field": "label"}}},
      {"data": {"values": [{"label": "Goal", "block": 15.67, "acc": 86.75}, {"label": "intention", "block": 15.67, "acc": 85.27}]},
       "mark": {"type": "text", "fontSize": 26, "align": "left", "baseline": "alphabetic", "color": "#C55A2B"},
       "encoding": {"text": {"field": "label"}}},
      {"data": {"values": [{"label": "Go", "block": 12.8, "acc": 83.26}, {"label": "No-go", "block": 12.8, "acc": 81.7}]},
       "mark": {"type": "text", "fontSize": 29, "align": "right", "baseline": "alphabetic", "color": "black"},
       "encoding": {"text": {"field": "label"}}},
      {"data": {"values": [{"label": "Go", "block": 17.45, "acc": 83.26}, {"label": "No-go", "block": 17.45, "acc": 81.7}]},
       "mark": {"type": "text", "fontSize": 29, "align": "left", "baseline": "alphabetic", "color": "black"},
       "encoding": {"text": {"field": "label"}}},
      {"data": {"values": [{"intention": "II", "block": 13.53, "block2": 14.76, "acc": 83.65}, {"intention": "GI", "block": 15.71, "block2": 16.98, "acc": 83.65}]},
       "mark": {"type": "rule", "strokeWidth": 10},
       "encoding": {"x2": {"field": "block2"}, "color": {"field": "intention", "type": "nominal", "legend": null}}},
      {"data": {"values": [{"intention": "II", "block": 13.53, "block2": 14.76, "acc": 82.06}, {"intention": "GI", "block": 15.71, "block2": 16.98, "acc": 82.06}]},
       "mark": {"type": "rule", "strokeWidth": 10, "strokeDash": [11, 8]},
       "encoding": {"x2": {"field": "block2"}, "color": {"field": "intention", "type": "nominal", "legend": null}}},
      {"data": {"values": [{"block": 0.717, "block2": 1.627, "acc": 76.23, "acc2": 77.09}, {"block": 0.717, "block2": 1.627, "acc": 75.06, "acc2": 75.92}]},
       "mark": {"type": "rule", "color": "#7f7f7f", "strokeWidth": 3},
       "encoding": {"x2": {"field": "block2"}, "y2": {"field": "acc2"}}},
      {"data": {"values": [{"label": "A", "block": -1.82, "acc": 105.37}]},
       "mark": {"type": "text", "fontSize": 44, "align": "left", "baseline": "alphabetic", "color": "black"},
       "encoding": {"text": {"field": "label"}}},
      {"data": {"values": [{"label": "Training", "block": 0.845, "acc": 105.37}]},
       "mark": {"type": "text", "font": "Liberation Sans", "fontSize": 48, "fontWeight": "bold", "align": "left", "baseline": "alphabetic", "color": "black"},
       "encoding": {"text": {"field": "label"}}}
    ]
  },
  {
    "width": 716, "height": 598,
    "encoding": {
      "x": {"field": "block", "type": "quantitative", "scale": {"domain": [0, 20], "nice": false, "zero": false},
            "axis": {"values": [1,2,3,4,5,6,7,8,9,10,11,12,13,14,15,16,17,18,19], "labelAngle": -45, "labelAlign": "center", "labelBaseline": "middle", "labelFontSize": 24, "labelPadding": 30, "labelOffset": 7, "tickSize": -7, "title": "block", "titleFontSize": 30, "titleX": 341, "titleY": 77, "titleBaseline": "alphabetic", "titleAlign": "center"}},
      "y": {"field": "rt", "type": "quantitative", "scale": {"domain": [320, 406.5], "nice": false, "zero": false},
            "axis": {"values": [320, 330, 340, 350, 360, 370, 380, 390, 400], "labelExpr": "datum.value == 320 ? '0' : (datum.value % 20 == 0 ? datum.label : '')", "domain": false, "labelFontSize": 28, "labelPadding": 25.5, "tickSize": -7, "title": "RT (msec)", "titleFont": "DejaVu Sans", "titleFontSize": 27, "titleX": -98.4, "titleY": 316, "titleAngle": -90, "titleAlign": "center", "titleBaseline": "middle"}}
    },
    "layer": [
      {"data": {"name": "trrt"}, "mark": {"type": "area", "opacity": 0.22},
       "encoding": {"y": {"field": "lo", "type": "quantitative"}, "y2": {"field": "hi"},
                    "color": {"field": "intention", "type": "nominal", "scale": {"domain": ["II", "GI"], "range": ["#3D6DB4", "#C0562A"]}, "legend": null}}},
      {"data": {"values": [{"block": 0, "rt": 320, "rt2": 400}]},
       "mark": {"type": "rule", "color": "#808080", "strokeWidth": 1.5},
       "encoding": {"y2": {"field": "rt2"}}},
      {"data": {"values": [{"block": 7, "rt": 400, "rt2": 338.57}, {"block": 7, "rt": 325.0, "rt2": 320}]},
       "mark": {"type": "rule", "color": "#7f7f7f", "strokeWidth": 2.5, "strokeDash": [11, 7]},
       "encoding": {"y2": {"field": "rt2"}}},
      {"data": {"name": "trrt"}, "mark": {"type": "line", "strokeWidth": 6},
       "encoding": {"color": {"field": "intention", "type": "nominal", "legend": null}}},
      {"data": {"values": [{"label": "No intentions", "block": 3.76, "rt": 404.32}, {"label": "With intentions & in scanner", "block": 13.37, "rt": 404.32}]},
       "mark": {"type": "text", "fontSize": 29, "align": "center", "baseline": "alphabetic", "color": "black"},
       "encoding": {"text": {"field": "label"}}},
      {"data": {"values": [{"label": "Practice", "block": 7.01, "rt": 332.28}, {"label": "block", "block": 7.01, "rt": 327.45}]},
       "mark": {"type": "text", "fontSize": 26, "align": "center", "baseline": "alphabetic", "color": "black"},
       "encoding": {"text": {"field": "label"}}},
      {"data": {"values": [{"block": -0.397, "block2": 0.623, "rt": 323.34, "rt2": 326.24}, {"block": -0.397, "block2": 0.623, "rt": 319.72, "rt2": 322.62}]},
       "mark": {"type": "rule", "color": "#7f7f7f", "strokeWidth": 3},
       "encoding": {"x2": {"field": "block2"}, "y2": {"field": "rt2"}}}
    ]
  },
  {
    "width": 758, "height": 595,
    "resolve": {"scale": {"x": "independent"}},
    "layer": [
      {
        "encoding": {
          "x": {"field": "c", "type": "nominal", "scale": {"type": "band", "domain": ["SV", "UP", "SNV", "DEV"], "paddingInner": 0.424, "paddingOuter": 0.1974, "align": 0.484}, "axis": null},
          "y": {"field": "v", "type": "quantitative", "scale": {"domain": [0, 103.5], "nice": false, "zero": false},
                "axis": {"values": [0, 10, 20, 30, 40, 50, 60, 70, 80, 90, 100], "labelExpr": "datum.value % 20 == 0 ? datum.label : ''", "labelFontSize": 28, "labelPadding": 26, "tickSize": -7, "title": "Accuracy (%)", "titleFont": "DejaVu Sans", "titleFontSize": 27, "titleX": -90, "titleY": 307, "titleAngle": -90, "titleAlign": "center", "titleBaseline": "middle"}}
        },
        "resolve": {"scale": {"xOffset": "independent"}},
        "layer": [
          {"data": {"name": "blbars"}, "mark": {"type": "bar", "stroke": "#333333", "strokeWidth": 1},
           "encoding": {"xOffset": {"field": "i", "type": "nominal", "scale": {"domain": ["II", "GI"], "paddingInner": 0, "paddingOuter": 0}},
                        "color": {"field": "i", "type": "nominal", "scale": {"domain": ["II", "GI"], "range": ["#3D6DB4", "#C0562A"]}, "legend": null}}},
          {"data": {"name": "blpts"}, "mark": {"type": "circle", "size": 190, "fill": "#808080", "fillOpacity": 0.28, "stroke": "#333333", "strokeOpacity": 0.55, "strokeWidth": 1.3},
           "encoding": {"xOffset": {"field": "j", "type": "quantitative", "scale": {"domain": [-1, 1], "range": [0, 110], "nice": false, "zero": false}}}},
          {"data": {"name": "blbars"}, "mark": {"type": "rule", "color": "black", "strokeWidth": 3.5},
           "encoding": {"xOffset": {"field": "i", "type": "nominal", "scale": {"domain": ["II", "GI"], "paddingInner": 0, "paddingOuter": 0}},
                        "y": {"field": "lo", "type": "quantitative"}, "y2": {"field": "hi"}}},
          {"data": {"name": "blbars"}, "mark": {"type": "tick", "orient": "horizontal", "size": 13, "thickness": 3.5, "color": "black", "opacity": 1},
           "encoding": {"xOffset": {"field": "i", "type": "nominal", "scale": {"domain": ["II", "GI"], "paddingInner": 0, "paddingOuter": 0}},
                        "y": {"field": "lo", "type": "quantitative"}}},
          {"data": {"name": "blbars"}, "mark": {"type": "tick", "orient": "horizontal", "size": 13, "thickness": 3.5, "color": "black", "opacity": 1},
           "encoding": {"xOffset": {"field": "i", "type": "nominal", "scale": {"domain": ["II", "GI"], "paddingInner": 0, "paddingOuter": 0}},
                        "y": {"field": "hi", "type": "quantitative"}}}
        ]
      },
      {"data": {"values": [{"f": 0, "f2": 0.9802, "v": 0}]},
       "mark": {"type": "rule", "color": "#808080", "strokeWidth": 1.5},
       "encoding": {"x": {"field": "f", "type": "quantitative", "scale": {"domain": [0, 1], "nice": false, "zero": false}, "axis": null}, "x2": {"field": "f2"}, "y": {"field": "v", "type": "quantitative"}}},
      {"data": {"values": [{"label": "Still-valuable", "f": 0.1055, "v": -7.6}, {"label": "Upvalued", "f": 0.3706, "v": -7.6}, {"label": "Still-not-valuable", "f": 0.6515, "v": -7.6}, {"label": "Devalued", "f": 0.9314, "v": -7.6}]},
       "mark": {"type": "text", "fontSize": 29, "align": "center", "baseline": "alphabetic", "color": "black"},
       "encoding": {"x": {"field": "f", "type": "quantitative", "scale": {"domain": [0, 1], "nice": false, "zero": false}, "axis": null}, "y": {"field": "v", "type": "quantitative"}, "text": {"field": "label"}}},
      {"data": {"values": [{"label": "B", "f": -0.1483, "v": 120.84}]},
       "mark": {"type": "text", "fontSize": 44, "align": "left", "baseline": "alphabetic", "color": "black"},
       "encoding": {"x": {"field": "f", "type": "quantitative", "scale": {"domain": [0, 1], "nice": false, "zero": false}, "axis": null}, "y": {"field": "v", "type": "quantitative"}, "text": {"field": "label"}}},
      {"data": {"values": [{"label": "Test", "f": -0.0037, "v": 120.84}]},
       "mark": {"type": "text", "fontSize": 48, "fontWeight": "bold", "align": "left", "baseline": "alphabetic", "color": "black"},
       "encoding": {"x": {"field": "f", "type": "quantitative", "scale": {"domain": [0, 1], "nice": false, "zero": false}, "axis": null}, "y": {"field": "v", "type": "quantitative"}, "text": {"field": "label"}}}
    ]
  },
  {
    "width": 721, "height": 595,
    "resolve": {"scale": {"x": "independent"}},
    "layer": [
      {
        "encoding": {
          "x": {"field": "c", "type": "nominal", "scale": {"type": "band", "domain": ["SV", "DEV", "SNV", "UP"], "paddingInner": 0.4236, "paddingOuter": 0.1748, "align": 0.723},
                "axis": {"title": null, "domain": false, "ticks": false, "tickSize": 0, "labelAngle": 0, "labelFontSize": 29, "labelPadding": 45, "labelBaseline": "alphabetic", "labelAlign": "center", "labelExpr": "datum.value == 'SV' ? 'Still-valuable' : datum.value == 'DEV' ? 'Devalued' : datum.value == 'SNV' ? 'Still-not-valuable' : 'Upvalued'"}},
          "y": {"field": "v", "type": "quantitative", "scale": {"domain": [301.5, 623.1], "nice": false, "zero": false},
                "axis": {"values": [301.5, 350, 400, 450, 500, 550, 600], "labelExpr": "datum.value < 310 ? '0' : (datum.value % 100 == 0 ? datum.label : '')", "domain": false, "offset": -8, "labelFontSize": 28, "labelPadding": 26, "tickSize": -7, "title": "RT (msec)", "titleFont": "DejaVu Sans", "titleFontSize": 27, "titleX": -98, "titleY": 324, "titleAngle": -90, "titleAlign": "center", "titleBaseline": "middle"}}
        },
        "resolve": {"scale": {"xOffset": "independent"}},
        "layer": [
          {"data": {"name": "brbars"}, "mark": {"type": "bar", "stroke": "#333333", "strokeWidth": 1},
           "encoding": {"xOffset": {"field": "i", "type": "nominal", "scale": {"domain": ["II", "GI"], "paddingInner": 0, "paddingOuter": 0}},
                        "y2": {"datum": 301.5},
                        "color": {"field": "i", "type": "nominal", "scale": {"domain": ["II", "GI"], "range": ["#3D6DB4", "#C0562A"]}, "legend": null}}},
          {"data": {"name": "brpts"}, "mark": {"type": "circle", "size": 190, "fill": "#808080", "fillOpacity": 0.28, "stroke": "#333333", "strokeOpacity": 0.55, "strokeWidth": 1.3},
           "encoding": {"xOffset": {"field": "j", "type": "quantitative", "scale": {"domain": [-1, 1], "range": [0, 106], "nice": false, "zero": false}}}},
          {"data": {"name": "brbars"}, "mark": {"type": "rule", "color": "black", "strokeWidth": 3.5},
           "encoding": {"xOffset": {"field": "i", "type": "nominal", "scale": {"domain": ["II", "GI"], "paddingInner": 0, "paddingOuter": 0}},
                        "y": {"field": "lo", "type": "quantitative"}, "y2": {"field": "hi"}}},
          {"data": {"name": "brbars"}, "mark": {"type": "tick", "orient": "horizontal", "size": 13, "thickness": 3.5, "color": "black", "opacity": 1},
           "encoding": {"xOffset": {"field": "i", "type": "nominal", "scale": {"domain": ["II", "GI"], "paddingInner": 0, "paddingOuter": 0}},
                        "y": {"field": "lo", "type": "quantitative"}}},
          {"data": {"name": "brbars"}, "mark": {"type": "tick", "orient": "horizontal", "size": 13, "thickness": 3.5, "color": "black", "opacity": 1},
           "encoding": {"xOffset": {"field": "i", "type": "nominal", "scale": {"domain": ["II", "GI"], "paddingInner": 0, "paddingOuter": 0}},
                        "y": {"field": "hi", "type": "quantitative"}}}
        ]
      },
      {"data": {"values": [{"f": 0.0111, "v": 301.5, "v2": 605}]},
       "mark": {"type": "rule", "color": "#808080", "strokeWidth": 1.5},
       "encoding": {"x": {"field": "f", "type": "quantitative", "scale": {"domain": [0, 1], "nice": false, "zero": false}, "axis": null}, "y": {"field": "v", "type": "quantitative"}, "y2": {"field": "v2"}}},
      {"data": {"values": [{"f": 0.0111, "f2": 1, "v": 301.5}]},
       "mark": {"type": "rule", "color": "#808080", "strokeWidth": 1.5},
       "encoding": {"x": {"field": "f", "type": "quantitative", "scale": {"domain": [0, 1], "nice": false, "zero": false}, "axis": null}, "x2": {"field": "f2"}, "y": {"field": "v", "type": "quantitative"}}},
      {"data": {"values": [{"f": -0.0055, "f2": 0.0466, "v": 314.3, "v2": 324.7}, {"f": -0.0055, "f2": 0.0466, "v": 301.0, "v2": 311.2}]},
       "mark": {"type": "rule", "color": "#7f7f7f", "strokeWidth": 3},
       "encoding": {"x": {"field": "f", "type": "quantitative", "scale": {"domain": [0, 1], "nice": false, "zero": false}, "axis": null}, "x2": {"field": "f2"}, "y": {"field": "v", "type": "quantitative"}, "y2": {"field": "v2"}}},
      {"data": {"values": [{"i": "II", "f": -0.209, "f2": -0.1373, "v": 686.0, "v2": 672.5}, {"i": "GI", "f": -0.209, "f2": -0.1373, "v": 663.5, "v2": 650.0}]},
       "mark": {"type": "rect"},
       "encoding": {"x": {"field": "f", "type": "quantitative", "scale": {"domain": [0, 1], "nice": false, "zero": false}, "axis": null}, "x2": {"field": "f2"}, "y": {"field": "v", "type": "quantitative"}, "y2": {"field": "v2"},
                    "color": {"field": "i", "type": "nominal", "legend": null}}},
      {"data": {"values": [{"label": "Implementation intention", "f": -0.1133, "v": 673.4}, {"label": "Goal intention", "f": -0.1133, "v": 652.1}]},
       "mark": {"type": "text", "fontSize": 30, "align": "left", "baseline": "alphabetic", "color": "black"},
       "encoding": {"x": {"field": "f", "type": "quantitative", "scale": {"domain": [0, 1], "nice": false, "zero": false}, "axis": null}, "y": {"field": "v", "type": "quantitative"}, "text": {"field": "label"}}}
    ]
  }
]
}
